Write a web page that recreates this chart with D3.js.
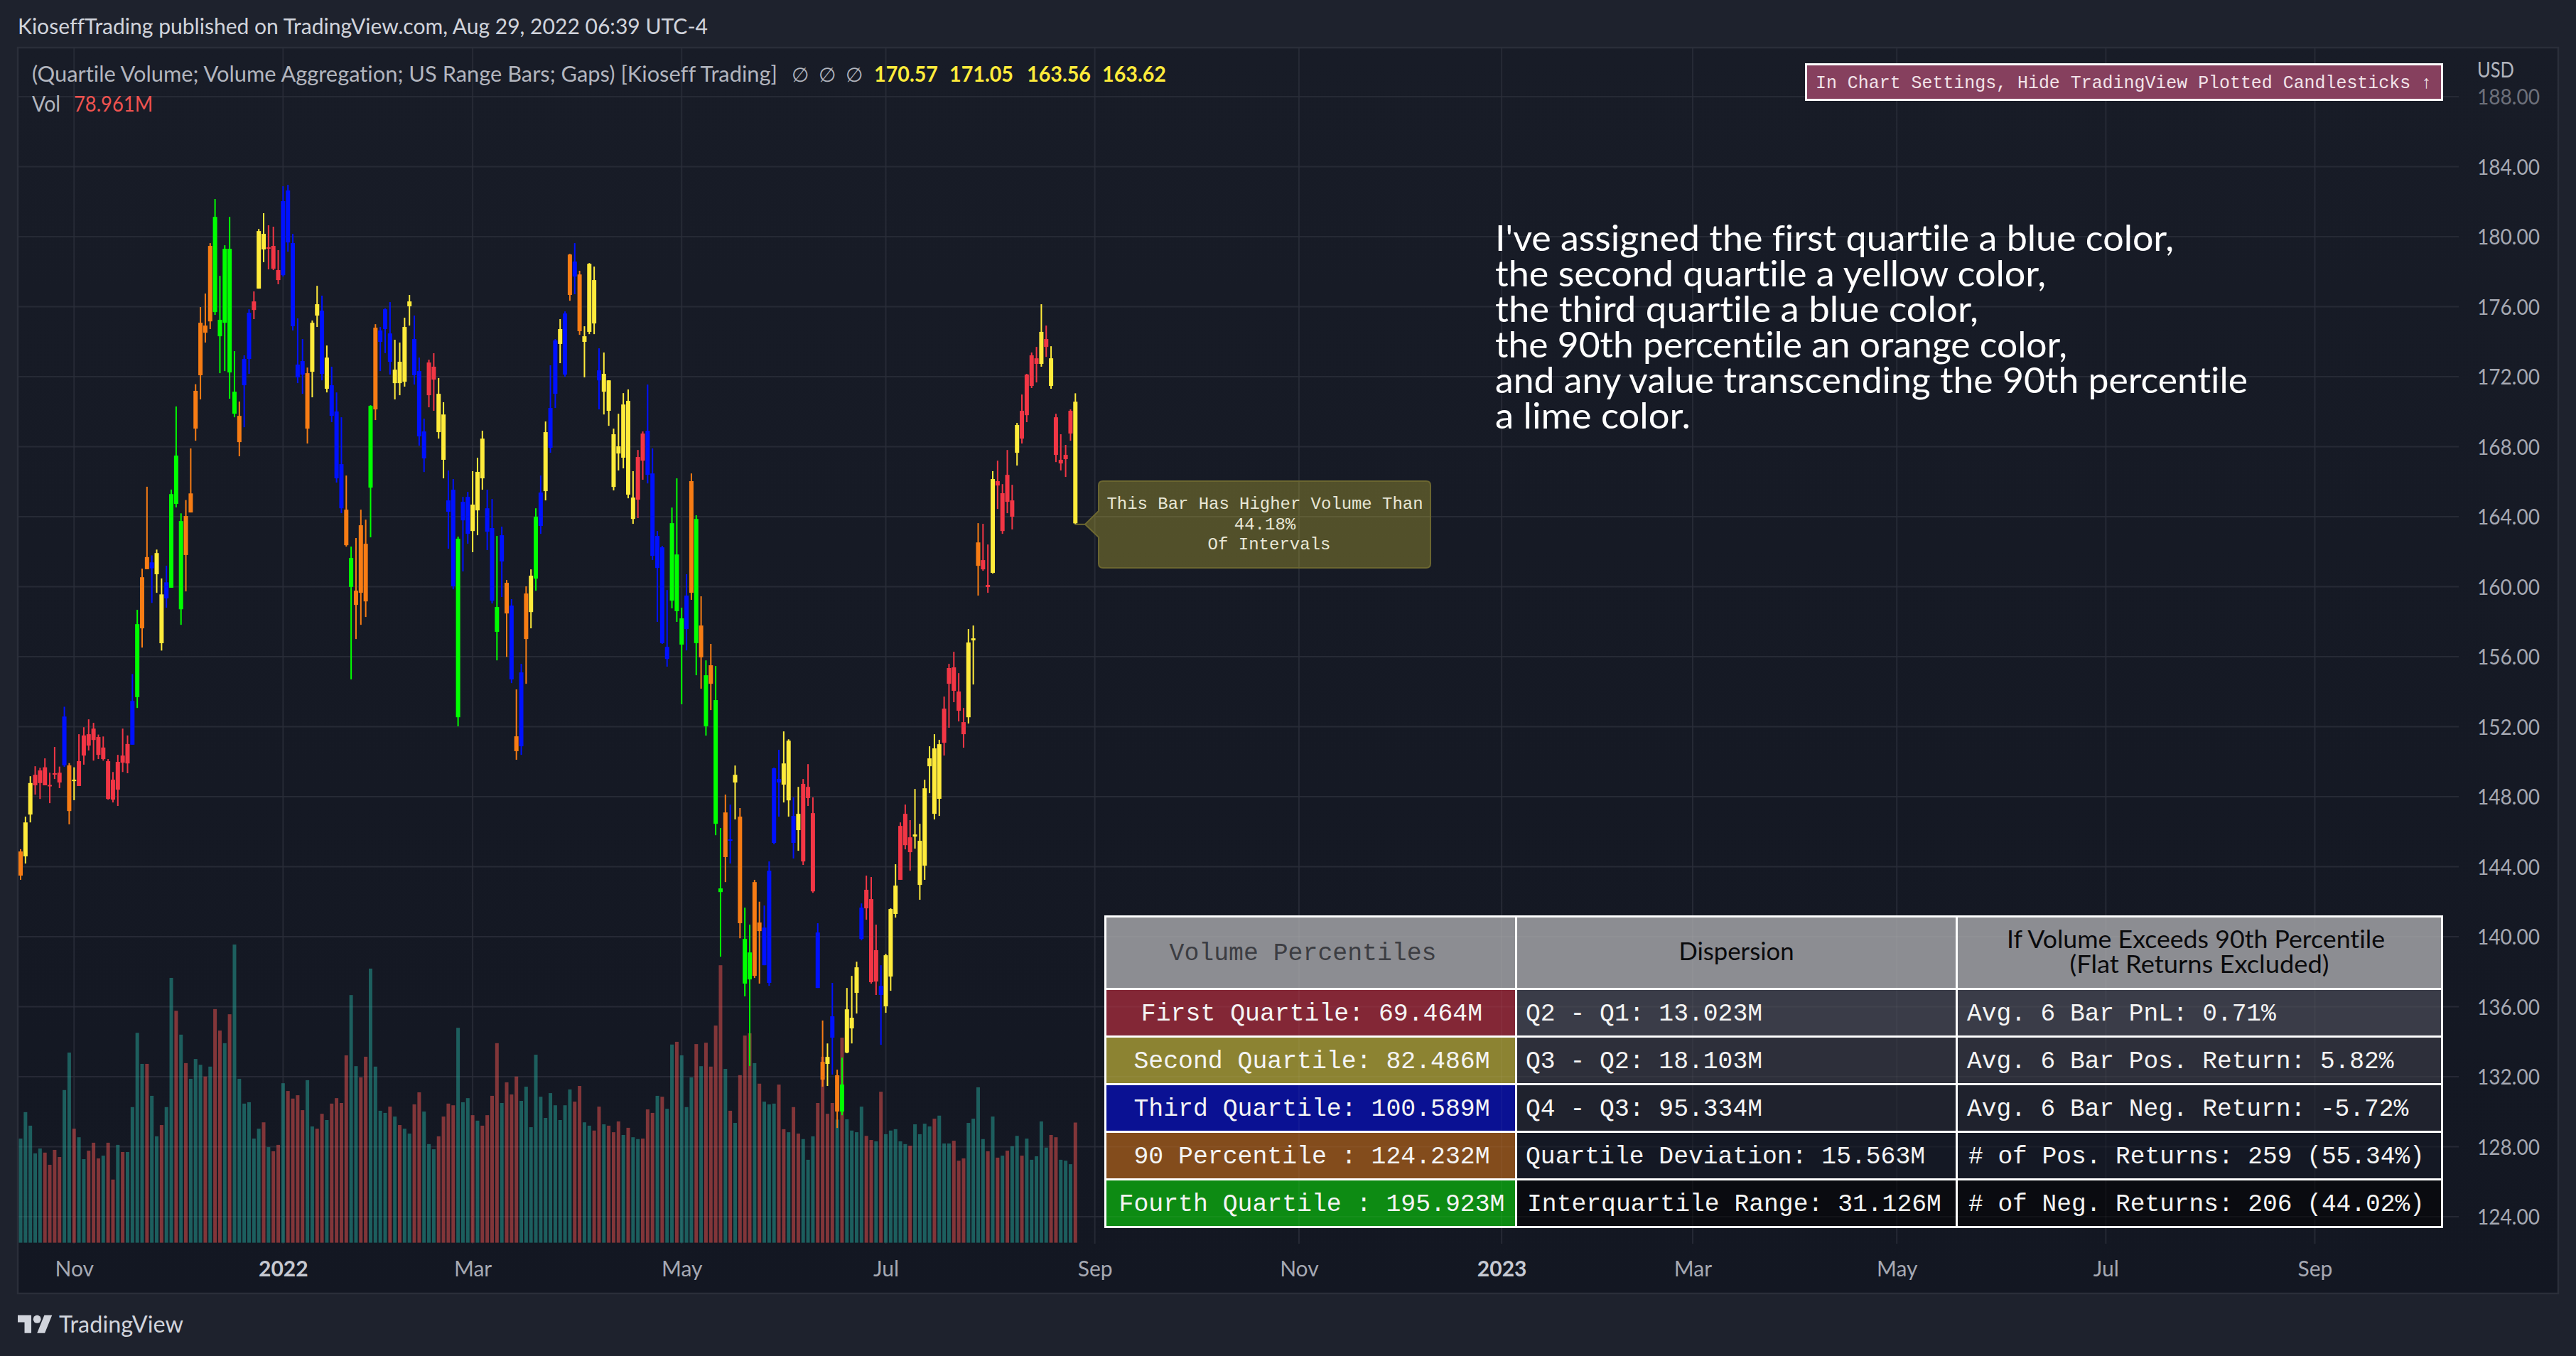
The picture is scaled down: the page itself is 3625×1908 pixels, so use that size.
<!DOCTYPE html>
<html><head><meta charset="utf-8">
<script src="https://cdn.jsdelivr.net/npm/d3@7"></script>
<style>html,body{margin:0;padding:0;background:#1e222d;overflow:hidden}svg{display:block}text{font-variant-ligatures:none}</style>
</head><body><div id="chart"></div>
<script>
// ---- data ----
const highs=[
145.00,146.86,149.17,149.74,149.65,150.19,149.37,150.84,149.72,153.14,
149.92,149.68,151.57,151.97,152.42,152.22,151.55,151.44,150.15,149.41,
150.39,151.89,151.50,155.01,158.68,161.03,165.71,161.79,162.12,160.47,
161.20,165.55,170.30,164.19,164.95,167.90,171.57,175.98,176.75,179.63,
182.15,177.76,179.51,181.13,173.46,170.58,173.22,175.85,176.87,180.44,
181.34,180.65,180.57,179.23,182.88,182.96,180.16,175.33,174.15,172.52,
175.21,177.19,176.63,173.78,172.57,171.10,169.68,166.35,162.29,162.78,
164.40,163.83,170.37,175.00,174.84,175.90,176.26,174.11,173.95,175.37,
176.67,175.49,173.09,169.60,172.97,173.34,171.92,170.54,166.64,166.15,
162.86,165.13,165.42,166.60,167.37,168.91,165.54,165.01,162.90,163.43,
160.38,159.29,154.13,155.59,160.02,160.99,164.48,166.35,169.44,172.65,
174.15,175.29,175.73,179.02,179.63,178.05,174.88,178.49,178.29,173.62,
173.38,171.79,169.03,169.88,171.06,171.27,166.60,167.81,168.87,171.55,
167.90,163.18,162.33,159.81,164.52,166.19,158.80,160.71,166.47,164.08,
159.45,155.79,156.73,155.47,146.21,148.12,147.55,149.78,147.35,141.66,
140.69,143.25,142.00,141.78,144.30,149.66,150.68,151.73,151.28,147.96,
148.56,149.01,149.86,147.96,140.77,135.21,133.90,137.36,132.40,133.09,
137.07,137.76,138.57,141.90,143.49,143.41,140.69,138.37,139.02,141.62,
144.14,146.53,147.55,146.66,148.44,146.45,148.97,150.88,151.57,151.25,
153.72,155.59,156.28,155.06,153.07,157.58,157.78,163.63,163.59,162.41,
166.60,167.20,165.86,167.81,165.82,169.36,170.98,172.16,173.38,173.70,
176.14,174.92,173.74,169.88,168.71,168.10,170.13,171.05];
const bodyTops=[
144.87,146.53,148.78,149.25,149.50,149.68,148.67,149.34,149.37,152.58,
149.79,148.97,150.03,151.50,151.57,151.89,151.41,150.81,150.03,148.97,
149.99,150.35,151.01,153.47,157.86,160.54,161.69,161.39,161.92,159.56,
160.25,165.29,167.49,163.75,164.04,165.33,171.19,175.08,174.92,179.47,
181.13,175.25,179.31,179.31,171.14,169.76,173.01,175.65,176.30,180.32,
180.16,179.39,179.47,178.09,182.03,182.64,179.63,172.69,172.89,172.20,
175.08,176.14,175.77,173.09,171.51,170.01,167.00,164.40,161.64,159.77,
163.51,162.45,170.33,174.80,174.64,175.85,174.47,172.40,172.85,174.84,
176.30,174.15,172.32,168.87,172.81,172.57,171.02,169.84,164.93,165.54,
162.74,164.85,165.13,164.69,166.56,168.46,164.48,163.35,158.84,162.94,
160.22,158.92,151.45,155.10,159.61,160.63,164.00,165.38,168.83,170.21,
174.07,174.72,175.61,178.98,178.58,177.84,174.31,178.45,177.52,172.36,
172.16,171.79,168.71,168.02,170.41,170.62,165.09,167.41,168.75,168.91,
166.47,162.90,162.25,156.56,163.63,161.84,158.19,159.49,166.03,163.87,
157.78,154.94,155.51,153.52,142.76,147.10,145.56,149.25,146.86,139.87,
139.10,143.12,140.81,140.52,143.77,149.62,149.01,149.90,151.20,146.90,
147.02,148.73,148.56,147.06,140.24,132.85,133.13,135.45,132.08,131.55,
135.85,135.37,138.25,141.66,142.68,142.15,139.23,137.19,138.94,141.58,
142.92,146.33,147.02,145.68,145.84,145.48,148.48,150.19,150.76,151.00,
153.03,155.35,155.39,154.01,152.26,156.81,157.05,162.53,161.52,160.10,
166.15,166.03,165.34,166.39,164.93,169.24,170.05,172.12,173.22,173.05,
174.56,174.15,173.05,169.68,167.25,167.53,170.05,170.57];
const bodyBottoms=[
143.49,144.59,146.98,148.65,148.78,148.65,148.61,149.28,148.81,149.79,
147.18,148.94,148.61,150.35,150.92,151.24,150.39,150.15,147.87,147.83,
148.40,149.94,149.90,150.97,153.69,157.62,161.00,161.05,160.71,156.77,
159.33,159.94,164.73,158.71,161.81,164.24,169.03,172.08,174.51,175.16,
175.69,174.31,175.08,172.24,169.88,168.26,171.51,173.01,175.81,177.03,
179.27,179.31,178.17,177.52,177.80,179.67,174.88,171.96,172.12,169.03,
172.28,175.49,172.16,171.31,169.76,166.19,164.48,162.37,159.98,158.96,
159.65,159.16,165.66,170.13,173.99,174.72,172.85,171.63,171.63,171.71,
176.02,172.08,168.59,167.33,170.94,171.83,168.83,167.25,164.28,160.02,
152.54,163.79,163.02,163.18,164.36,166.19,163.14,159.20,157.42,161.44,
158.47,154.70,150.60,150.88,157.01,158.55,160.46,163.47,165.46,167.94,
171.02,173.87,172.12,176.67,177.72,174.60,173.99,174.56,175.04,171.79,
171.14,170.05,165.70,167.61,167.37,165.26,163.87,164.97,167.20,166.39,
161.76,161.07,156.77,155.87,159.20,158.60,156.69,157.58,159.65,156.77,
155.96,152.02,154.45,146.45,142.55,144.55,145.52,148.81,140.77,137.32,
137.56,137.76,140.32,138.37,137.36,145.36,148.81,148.69,147.79,145.36,
146.09,144.30,147.92,142.59,137.07,131.83,132.73,134.23,130.01,130.01,
133.38,134.76,136.79,139.87,141.62,137.40,137.44,136.67,136.02,137.72,
141.30,143.25,145.23,144.83,145.72,142.96,144.06,149.74,147.02,147.88,
151.08,154.45,154.05,152.91,151.57,152.54,156.93,161.19,160.99,159.98,
160.79,165.78,163.18,164.85,164.00,167.65,168.46,169.80,171.47,172.73,
172.73,173.70,171.47,167.53,167.04,167.29,168.75,163.62];
const lows=[
143.25,144.18,146.53,148.12,147.87,148.65,147.63,149.01,148.49,149.70,
146.42,147.80,148.61,149.83,150.64,150.06,150.15,150.06,147.83,147.67,
147.47,149.41,149.34,150.97,153.07,156.52,161.00,159.07,159.65,156.35,
158.80,159.94,164.53,157.82,159.73,164.24,168.34,170.70,173.95,174.72,
175.53,172.20,172.32,170.74,169.68,167.45,169.11,172.16,175.29,177.03,
178.54,178.13,178.09,177.28,177.72,179.14,174.64,171.63,171.02,168.18,
170.82,174.84,171.79,171.10,169.40,165.95,164.20,162.29,154.70,157.01,
157.82,158.27,162.82,169.52,172.32,173.34,172.12,170.70,170.94,171.43,
174.92,171.55,168.06,166.55,170.25,170.05,168.46,166.19,162.17,159.85,
152.02,160.87,162.45,161.97,162.94,165.54,162.09,159.04,155.79,159.41,
155.99,154.49,150.11,150.39,154.45,157.62,159.77,163.02,164.93,167.65,
170.21,172.77,172.00,176.34,176.71,174.39,171.96,174.43,174.43,170.13,
169.84,169.19,165.50,166.64,166.76,165.05,163.59,163.92,166.11,165.90,
161.52,157.99,156.73,155.43,158.76,157.99,153.28,156.36,159.25,154.94,
154.17,151.49,152.95,145.80,138.86,143.12,144.18,146.70,139.91,136.59,
132.61,137.64,137.32,138.37,137.19,145.28,146.86,147.67,146.86,144.47,
144.91,144.10,147.47,142.51,137.07,131.43,131.47,132.12,129.07,129.80,
133.34,133.90,135.61,139.79,140.97,137.32,136.67,133.82,135.65,136.91,
141.09,143.25,144.99,143.77,145.03,142.11,143.25,148.20,146.70,146.90,
150.35,151.94,153.40,152.30,150.80,152.18,154.41,159.49,160.91,159.65,
160.75,164.44,163.02,164.20,163.27,166.92,168.18,169.40,171.35,171.67,
172.57,173.13,171.31,167.12,166.64,166.27,168.34,163.56];
const volumeBand=(
"o y y r r r r r r b o y r r r r r r r r r r r b l o o b y y "+
"b l l l o o o o o o l l l l l o b b r y y r r r b b b b b o "+
"y y b y b b b o l o o o l o b b b y y y y b b b r r y y b b "+
"l b b y y y b b l b o b o b o y l b y b b y b o b o y y y b "+
"y y y y y y y r r b b b b b l l l b o l o l o l l o b y o l "+
"l o o b b b b y y b y r r r b o y b o l y y y b r r r b y y "+
"y r r r y y y y y y r r r r r y y o r r y r r r r y r r r r "+
"y r y r r r r y").split(" ");
const volumes=[
68.4,85.8,76.9,58.7,61.9,59.2,51.2,61.0,56.3,100.3,
124.9,74.9,69.3,54.9,60.5,65.7,55.4,57.2,65.7,41.5,
64.3,59.6,59.6,89.1,137.9,117.5,117.5,96.5,69.9,77.3,
89.1,174.0,152.4,136.7,118.0,107.7,120.7,116.9,109.2,115.7,
153.5,139.4,131.1,150.1,195.9,107.7,91.4,92.3,68.4,74.9,
79.1,62.8,60.1,64.3,104.8,99.7,94.7,96.9,87.1,106.8,
76.4,74.9,84.7,80.6,91.4,95.0,91.8,123.1,162.7,116.0,
108.6,122.2,180.1,115.7,86.7,85.3,89.4,82.9,77.3,74.9,
71.7,90.9,98.8,86.2,64.8,61.4,69.9,82.9,91.4,90.3,
141.2,92.3,95.0,83.8,80.2,76.9,83.8,96.5,131.1,91.8,
105.4,97.4,109.2,93.2,102.5,75.9,123.5,95.9,82.0,98.3,
90.3,80.6,90.3,100.7,92.7,103.0,79.1,76.9,73.7,89.4,
77.8,76.9,72.6,79.7,70.8,75.5,69.3,68.1,68.4,87.6,
85.3,96.5,95.9,88.0,130.2,132.0,123.1,89.1,108.6,130.5,
116.0,131.4,115.7,142.7,182.3,114.2,86.7,78.7,110.1,136.1,
137.6,118.0,104.5,92.7,90.9,91.4,103.9,74.6,72.6,89.1,
71.7,68.1,54.5,69.9,91.8,122.2,84.7,91.8,80.9,134.7,
81.1,73.7,72.6,89.4,70.2,67.5,66.6,99.2,71.3,73.7,
74.6,66.6,64.8,63.7,77.8,71.3,78.2,76.4,81.5,83.5,
65.2,65.2,67.0,53.9,55.4,78.7,81.5,102.1,68.1,60.1,
82.9,55.9,57.2,60.5,63.4,70.2,57.2,68.4,54.5,56.8,
79.7,62.5,70.8,69.3,54.5,53.9,51.6,78.96];
const volumeDirection=(
"u u u u u d d d d u u d u u d d d u d d "+
"u d u u u u d u u d u u d u d u u u d u "+
"d d u d u u u u u u d u d d u d d d d u "+
"u d d u d d d d u u d d u u u u d u d u "+
"u d d u u u d d d d u u u d u d d d d u "+
"d d d u u u u u u u u u u u d d u u d d "+
"u d d d u d u u d d d u d u u d u u u d "+
"u d d d d u d u d d d u d u u u d d u d "+
"d u u u d d d d u d u u u u d d u d u u "+
"u u u d u u u u d u u u d d d u u u u d "+
"u d u d u u d u u u u u d d u u u d").split(" ");
const priceTicks=[124,128,132,136,140,144,148,152,156,160,164,168,172,176,180,184,188];
const timeTickIndex=[11,54,93,136,178,221,263,304.7,344,386,429,472];
const timeTickLabels=["Nov","2022","Mar","May","Jul","Sep","Nov","2023","Mar","May","Jul","Sep"];
const annotationLines=["I've assigned the first quartile a blue color,","the second quartile a yellow color,","the third quartile a blue color,","the 90th percentile an orange color,","and any value transcending the 90th percentile","a lime color."];
const annotationWidths=[955,775,680,805,1059,275];
const percentileCells=["First Quartile: 69.464M","Second Quartile: 82.486M","Third Quartile: 100.589M","90 Percentile : 124.232M","Fourth Quartile : 195.923M"];
const dispersionCells=["Q2 - Q1: 13.023M","Q3 - Q2: 18.103M","Q4 - Q3: 95.334M","Quartile Deviation: 15.563M","Interquartile Range: 31.126M"];
const returnCells=["Avg. 6 Bar PnL: 0.71%","Avg. 6 Bar Pos. Return: 5.82%","Avg. 6 Bar Neg. Return: -5.72%","# of Pos. Returns: 259 (55.34%)","# of Neg. Returns: 206 (44.02%)"];
const percentileFills=["#832736","#8c8332","#0a1193","#834c1c","#0d8b13"];
const dispersionFills=["#3a3c48","#2d2f3a","#1f222d","#141824","#0a0b10"];
const ohlcLabels=["170.57","171.05","163.56","163.62"];

// ---- layout ----
const W=3625,H=1908;
const plot={l:25,r:3600,t:67,b:1820,axisR:3460,gridB:1750};
const sans="Lato, 'Noto Sans', sans-serif", mono="'Liberation Mono', monospace";
const bandColor={r:"#f23645",y:"#ffeb3b",b:"#0011ff",o:"#f77c14",l:"#00ff00"};

const svg=d3.select("#chart").append("svg").attr("width",W).attr("height",H).attr("viewBox",`0 0 ${W} ${H}`);
const defs=svg.append("defs");
const grad=defs.append("linearGradient").attr("id","bg").attr("x1",0).attr("x2",0).attr("y1",0).attr("y2",1);
grad.append("stop").attr("offset","0").attr("stop-color","#181c27");
grad.append("stop").attr("offset","1").attr("stop-color","#131722");

const x=d3.scaleLinear().domain([0,217]).range([29,29+6.84*217]);
const y=d3.scaleLinear().domain([124,188]).range([1712,136]);
const v=d3.scaleLinear().domain([0,195.923]).range([1748.6,1329]);

svg.append("rect").attr("width",W).attr("height",H).attr("fill","#1e222d");
svg.append("rect").attr("x",plot.l).attr("y",plot.t).attr("width",plot.r-plot.l).attr("height",plot.b-plot.t)
  .attr("fill","url(#bg)").attr("stroke","#2a2e39").attr("stroke-width",2.5);

// text helper: real text, fitted to the measured width where one is given
function label(g,t,px,py,o={}){
  const n=g.append("text").attr("x",px).attr("y",py).text(t)
    .attr("font-family",o.font||sans).attr("font-size",o.size||30).attr("fill",o.fill||"#b2b5be")
    .attr("text-anchor",o.anchor||"start").attr("font-weight",o.weight||400).style("white-space","pre");
  if(o.w) n.attr("textLength",o.w).attr("lengthAdjust","spacingAndGlyphs");
  return n;
}

// gridlines
const grid=svg.append("g").attr("stroke","#2a2e39").attr("stroke-opacity",.8).attr("stroke-width",2);
grid.selectAll("line.h").data(priceTicks).join("line").attr("class","h")
  .attr("x1",plot.l).attr("x2",plot.axisR).attr("y1",d=>y(d)).attr("y2",d=>y(d));
grid.selectAll("line.v").data(timeTickIndex).join("line").attr("class","v")
  .attr("y1",plot.t).attr("y2",plot.gridB).attr("x1",d=>x(d)).attr("x2",d=>x(d));

// volume
svg.append("g").selectAll("rect").data(volumes).join("rect")
  .attr("x",(d,i)=>x(i)-2.5).attr("width",5).attr("y",d=>v(d)).attr("height",d=>v(0)-v(d))
  .attr("fill",(d,i)=>volumeDirection[i]==="u"?"rgba(38,166,154,.5)":"rgba(239,83,80,.5)");

// candles
const candles=svg.append("g").selectAll("g").data(highs).join("g").attr("fill",(d,i)=>bandColor[volumeBand[i]]);
candles.append("rect").attr("x",(d,i)=>x(i)-1).attr("width",2)
  .attr("y",(d,i)=>y(highs[i])).attr("height",(d,i)=>y(lows[i])-y(highs[i]));
candles.append("rect").attr("x",(d,i)=>x(i)-3).attr("width",6)
  .attr("y",(d,i)=>y(bodyTops[i])).attr("height",(d,i)=>Math.max(2,y(bodyBottoms[i])-y(bodyTops[i])));

// axes
const yAxis=d3.axisRight(y).tickValues(priceTicks).tickFormat(d3.format(".2f")).tickSize(0).tickPadding(0);
const ya=svg.append("g").attr("transform","translate(3486,0)").call(yAxis);
ya.select(".domain").remove();
ya.selectAll("text").attr("font-family",sans).attr("font-size",30).attr("fill","#a6a9b3")
  .attr("textLength",88).attr("lengthAdjust","spacingAndGlyphs").attr("dy","0.36em")
  .attr("opacity",d=>d===188?.6:1);
const xAxis=d3.axisBottom(x).tickValues(timeTickIndex).tickFormat((d,i)=>timeTickLabels[i]).tickSize(0);
const xa=svg.append("g").attr("transform",`translate(0,${plot.gridB})`).call(xAxis);
xa.select(".domain").remove();
xa.selectAll("text").attr("font-family",sans).attr("font-size",30).attr("dy",0).attr("y",46)
  .attr("fill",(d,i)=>/^\d/.test(timeTickLabels[i])?"#c6c9d2":"#a6a9b3")
  .attr("font-weight",(d,i)=>/^\d/.test(timeTickLabels[i])?700:400);

// header text
const txt=svg.append("g");
label(txt,"KioseffTrading published on TradingView.com, Aug 29, 2022 06:39 UTC-4",25,48,{size:30,fill:"#d1d4dc",w:971});
label(txt,"(Quartile Volume; Volume Aggregation; US Range Bars; Gaps) [Kioseff Trading]",45,115,{size:30,fill:"#b2b5be",w:1049});
[1114,1152,1190].forEach(px=>label(txt,"∅",px,115,{size:28,fill:"#b2b5be"}));
[1230,1336,1445,1551].forEach((px,i)=>label(txt,ohlcLabels[i],px,115,{size:30,fill:"#ffeb3b",weight:700,w:90}));
label(txt,"Vol",45,157,{size:30,fill:"#b2b5be",w:40});
label(txt,"78.961M",104,157,{size:30,fill:"#ef5350",w:111});
label(txt,"USD",3486,109,{size:30,fill:"#b2b5be",w:52});

// annotation
annotationLines.forEach((s,i)=>label(txt,s,2104,353+i*50,{size:50,fill:"#ffffff",w:annotationWidths[i]}));

// logo
const logo=svg.append("g").attr("transform","translate(25,1845) scale(1.36,1.4)").attr("fill","#d1d4dc");
logo.append("path").attr("d","M14 22H7V11H0V4h14v18zM28 22h-8l7.5-18h8L28 22z");
logo.append("circle").attr("cx",20).attr("cy",8).attr("r",4);
label(txt,"TradingView",83,1875,{size:32,fill:"#d1d4dc",w:175});

// banner
const banner=svg.append("g");
banner.append("rect").attr("x",2541.5).attr("y",90.5).attr("width",895).attr("height",50)
  .attr("fill","#86405e").attr("stroke","#fff").attr("stroke-width",3);
label(banner,"In Chart Settings, Hide TradingView Plotted Candlesticks ↑",2555,124,{font:mono,size:25,fill:"#f2e3e9",w:867});

// tooltip label
const tipY=y(lows[217]);
const tip=svg.append("g");
tip.append("line").attr("x1",x(217)).attr("x2",1527).attr("y1",tipY).attr("y2",tipY).attr("stroke","#6b6630").attr("stroke-width",2);
tip.append("path").attr("d",`M1552 677H2007Q2013 677 2013 683V793Q2013 799 2007 799H1552Q1546 799 1546 793V756L1527 ${tipY}L1546 719V683Q1546 677 1552 677Z`)
  .attr("fill","rgba(255,235,59,.26)").attr("stroke","#6b6630").attr("stroke-width",2);
label(tip,"This Bar Has Higher Volume Than",1780,716,{font:mono,size:24,fill:"#e9e7d6",anchor:"middle",w:445});
label(tip,"44.18%",1780,745,{font:mono,size:24,fill:"#e9e7d6",anchor:"middle"});
label(tip,"Of Intervals",1786,773,{font:mono,size:24,fill:"#e9e7d6",anchor:"middle"});

// table
const table=svg.append("g");
table.append("rect").attr("x",1554).attr("y",1288).attr("width",1884).attr("height",440).attr("fill","#ffffff");
const colX=[[1557,2132],[2135,2752],[2755,3435]];
const rowY=[[1393,1457],[1460,1524],[1527,1591],[1594,1658],[1661,1725]];
colX.forEach(c=>table.append("rect").attr("x",c[0]).attr("y",1291).attr("width",c[1]-c[0]).attr("height",99).attr("fill","#8c8d92"));
const baselines=[1436,1503,1570,1637,1704];
rowY.forEach((r,i)=>{
  table.append("rect").attr("x",colX[0][0]).attr("y",r[0]).attr("width",colX[0][1]-colX[0][0]).attr("height",r[1]-r[0]).attr("fill",percentileFills[i]);
  [1,2].forEach(c=>table.append("rect").attr("x",colX[c][0]).attr("y",r[0]).attr("width",colX[c][1]-colX[c][0]).attr("height",r[1]-r[0]).attr("fill",dispersionFills[i]));
});
// gridlines show faintly through the table cells
const faint=table.append("g").attr("stroke","#fff").attr("stroke-opacity",.035).attr("stroke-width",2);
faint.selectAll("line.h").data(priceTicks.filter(d=>y(d)>1291&&y(d)<1725)).join("line").attr("class","h")
  .attr("x1",1557).attr("x2",3435).attr("y1",d=>y(d)).attr("y2",d=>y(d));
faint.selectAll("line.v").data(timeTickIndex.filter(d=>x(d)>1557&&x(d)<3435)).join("line").attr("class","v")
  .attr("x1",d=>x(d)).attr("x2",d=>x(d)).attr("y1",1291).attr("y2",1725);
rowY.forEach((r,i)=>{
  label(table,percentileCells[i],1846,baselines[i],{font:mono,size:34.8,fill:"#f4f4f4",anchor:"middle"});
  label(table,dispersionCells[i],i===4?2149:2147,baselines[i],{font:mono,size:34.7,fill:"#f4f4f4"});
  label(table,returnCells[i],i>=3?2770:2768,baselines[i],{font:mono,size:34.5,fill:"#f4f4f4"});
});
label(table,"Volume Percentiles",1833.5,1351,{font:mono,size:34.8,fill:"#3c3d42",anchor:"middle"});
label(table,"Dispersion",2443.5,1351,{size:34,fill:"#0a0a0c",anchor:"middle",w:162});
label(table,"If Volume Exceeds 90th Percentile",3090,1334,{size:34,fill:"#0a0a0c",anchor:"middle",w:532});
label(table,"(Flat Returns Excluded)",3095,1369,{size:34,fill:"#0a0a0c",anchor:"middle",w:365});
</script></body></html>
